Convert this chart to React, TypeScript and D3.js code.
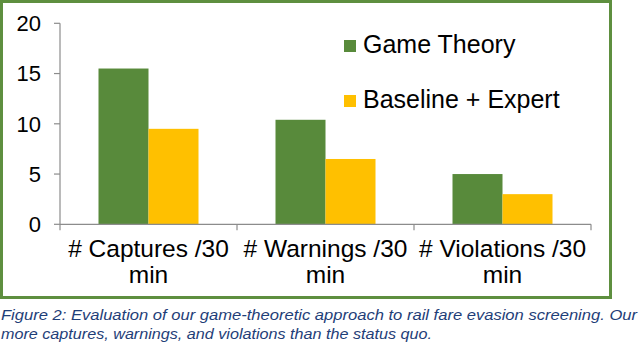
import * as d3 from 'd3';
import React from 'react';

// chart values
const categories = ["# Captures /30 min", "# Warnings /30 min", "# Violations /30 min"];
const seriesNames = ["Game Theory", "Baseline + Expert"];
const gameTheory = [15.5, 10.4, 5.0];
const baselineExpert = [9.5, 6.5, 3.0];
const yTicks = [0, 5, 10, 15, 20];
const captionLines = [
    "Figure 2: Evaluation of our game-theoretic approach to rail fare evasion screening. Our",
    "more captures, warnings, and violations than the status quo.",
];

const colors = ["#588A3B", "#FFC000"];
const frameColor = "#5E8F3F";
const axisColor = "#8C8C8C";
const font = "'Liberation Sans', Arial, Helvetica, sans-serif";

function App() {
    const width = 640;
    const height = 343;

    const x = d3.scaleBand().domain(categories).range([60, 591]).padding(0);
    const inner = d3.scaleBand().domain(seriesNames).range([0, x.bandwidth()]).paddingInner(0).paddingOuter(0.77);
    const y = d3.scaleLinear().domain([0, 20]).range([224.3, 23.3]);

    const values = [gameTheory, baselineExpert];
    const boundaries = categories.map(c => x(c)).concat([x.range()[1]]);

    return (
        <svg width={width} height={height} style={{ position: 'absolute', left: 0, top: 0 }} fontFamily={font}>
            <rect x={0} y={0} width={width} height={height} fill="#ffffff" />
            <rect x={1.5} y={1.5} width={609} height={296} fill="none" stroke={frameColor} strokeWidth={3} />

            {/* bars */}
            {seriesNames.map((s, si) => (
                <g key={s}>
                    {categories.map((c, ci) => (
                        <rect key={c}
                            x={x(c) + inner(s)}
                            y={y(values[si][ci])}
                            width={inner.bandwidth()}
                            height={y(0) - y(values[si][ci])}
                            fill={colors[si]} />
                    ))}
                </g>
            ))}

            {/* y axis */}
            <line x1={60} x2={60} y1={y(20)} y2={y(0)} stroke={axisColor} strokeWidth={1.2} />
            {yTicks.map(t => (
                <g key={t}>
                    <line x1={54} x2={60} y1={y(t)} y2={y(t)} stroke={axisColor} strokeWidth={1.2} />
                    <text x={41} y={y(t)} dy="0.35em" textAnchor="end" fontSize={22} fill="#000">{t}</text>
                </g>
            ))}

            {/* x axis */}
            <line x1={x.range()[0]} x2={x.range()[1]} y1={y(0)} y2={y(0)} stroke={axisColor} strokeWidth={1.2} />
            {boundaries.map((b, i) => (
                <line key={i} x1={b} x2={b} y1={y(0)} y2={y(0) + 6} stroke={axisColor} strokeWidth={1.2} />
            ))}
            {categories.map(c => {
                const parts = c.split(" min");
                const cx = x(c) + x.bandwidth() / 2;
                return (
                    <text key={c} x={cx} textAnchor="middle" fontSize={24.5} fill="#000">
                        <tspan x={cx} y={256.7}>{parts[0]}</tspan>
                        <tspan x={cx} y={282.7}>min</tspan>
                    </text>
                );
            })}

            {/* legend */}
            {seriesNames.map((s, i) => (
                <g key={s} transform={`translate(344, ${40 + i * 55})`}>
                    <rect x={0} y={0} width={12} height={12} fill={colors[i]} />
                    <text x={19} y={13.3} fontSize={25} fill="#000">{s}</text>
                </g>
            ))}

            {/* caption */}
            <text x={1} y={320} fontSize={15.5} fontStyle="italic" fill="#1F3E78"
                textLength={636} lengthAdjust="spacingAndGlyphs">{captionLines[0]}</text>
            <text x={1} y={339} fontSize={15.5} fontStyle="italic" fill="#1F3E78"
                textLength={431} lengthAdjust="spacingAndGlyphs">{captionLines[1]}</text>
        </svg>
    );
}

export default App;
